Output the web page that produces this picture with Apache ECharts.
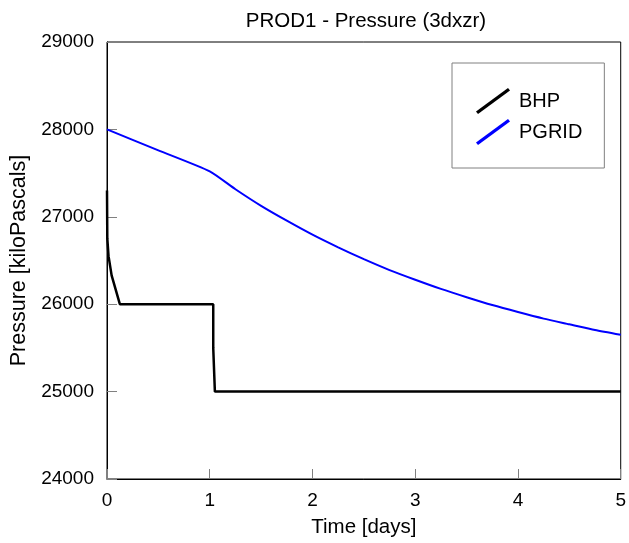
<!DOCTYPE html>
<html>
<head>
<meta charset="utf-8">
<script src="https://cdn.jsdelivr.net/npm/echarts@6/dist/echarts.min.js"></script>
<style>html,body{margin:0;padding:0;background:#fff}#c{width:629px;height:543px}</style>
</head>
<body>
<div id="c"></div>
<script>
const titleText = 'PROD1 - Pressure (3dxzr)';
const xName = 'Time [days]';
const yName = 'Pressure [kiloPascals]';
const xTicks = [0, 1, 2, 3, 4, 5];
const yTicks = [24000, 25000, 26000, 27000, 28000, 29000];

const bhpTime = [0, 0.003, 0.015, 0.045, 0.125, 1.034, 1.034, 1.05, 1.05, 5];
const bhpPressure = [27300, 26750, 26550, 26330, 26000, 26000, 25500, 25500, 25000, 25000];

const pgridTime = [0, 0.5, 1.0, 1.25, 1.5, 1.75, 2.0, 2.25, 2.5, 2.75, 3.0, 3.25, 3.5, 3.75, 4.0, 4.25, 4.5, 4.75, 5.0];
const pgridPressure = [28000, 27760, 27520, 27315, 27125, 26955, 26795, 26650, 26515, 26390, 26280, 26175, 26080, 25990, 25910, 25835, 25770, 25705, 25650];

const font = 'Liberation Sans, Arial, sans-serif';
const icon = 'path://M0,23.5 L32,0 L34,2.5 L2,26 Z';

const chart = echarts.init(document.getElementById('c'));
chart.setOption({
  backgroundColor: '#fff',
  animation: false,
  title: {
    text: titleText, left: 366, top: 11, padding: 0, textAlign: 'center',
    textStyle: {fontFamily: font, fontSize: 20.5, fontWeight: 'normal', color: '#000'}
  },
  grid: {left: 107, right: 4, top: 42, bottom: 63, show: true, borderColor: '#000', borderWidth: 1, backgroundColor: 'transparent'},
  legend: {
    orient: 'vertical', left: 452, top: 63, padding: [25, 22, 23, 24],
    borderColor: '#808080', borderWidth: 1, backgroundColor: '#fff',
    itemWidth: 34, itemHeight: 26, itemGap: 5,
    icon: icon,
    textStyle: {fontFamily: font, fontSize: 20, color: '#000', padding: [0, 0, 0, 4]},
    data: ['BHP', 'PGRID']
  },
  xAxis: {
    type: 'value', min: xTicks[0], max: xTicks[xTicks.length - 1], interval: 1,
    name: xName, nameLocation: 'middle', nameGap: 38,
    nameTextStyle: {fontFamily: font, fontSize: 20.5, color: '#000'},
    axisLine: {lineStyle: {color: '#000', width: 1}},
    axisTick: {inside: true, length: 10, lineStyle: {color: '#808080'}},
    axisLabel: {fontFamily: font, fontSize: 19, color: '#000', margin: 12, formatter: v => String(v)},
    splitLine: {show: false}
  },
  yAxis: {
    type: 'value', min: yTicks[0], max: yTicks[yTicks.length - 1], interval: 1000,
    name: yName, nameLocation: 'middle', nameGap: 66,
    nameTextStyle: {fontFamily: font, fontSize: 21.5, color: '#000'},
    axisLine: {show: true, lineStyle: {color: '#000', width: 1}},
    axisTick: {show: true, inside: true, length: 10, lineStyle: {color: '#808080'}},
    axisLabel: {fontFamily: font, fontSize: 19, color: '#000', margin: 13, formatter: v => String(v)},
    splitLine: {show: false}
  },
  series: [
    {
      name: 'BHP', type: 'line', showSymbol: false, symbol: 'none',
      data: bhpTime.map((t, i) => [t, bhpPressure[i]]),
      lineStyle: {color: '#000', width: 2.5}, itemStyle: {color: '#000'}
    },
    {
      name: 'PGRID', type: 'line', showSymbol: false, symbol: 'none', smooth: 0.2,
      data: pgridTime.map((t, i) => [t, pgridPressure[i]]),
      lineStyle: {color: '#0000ff', width: 2}, itemStyle: {color: '#0000ff'}
    }
  ]
});
</script>
</body>
</html>
